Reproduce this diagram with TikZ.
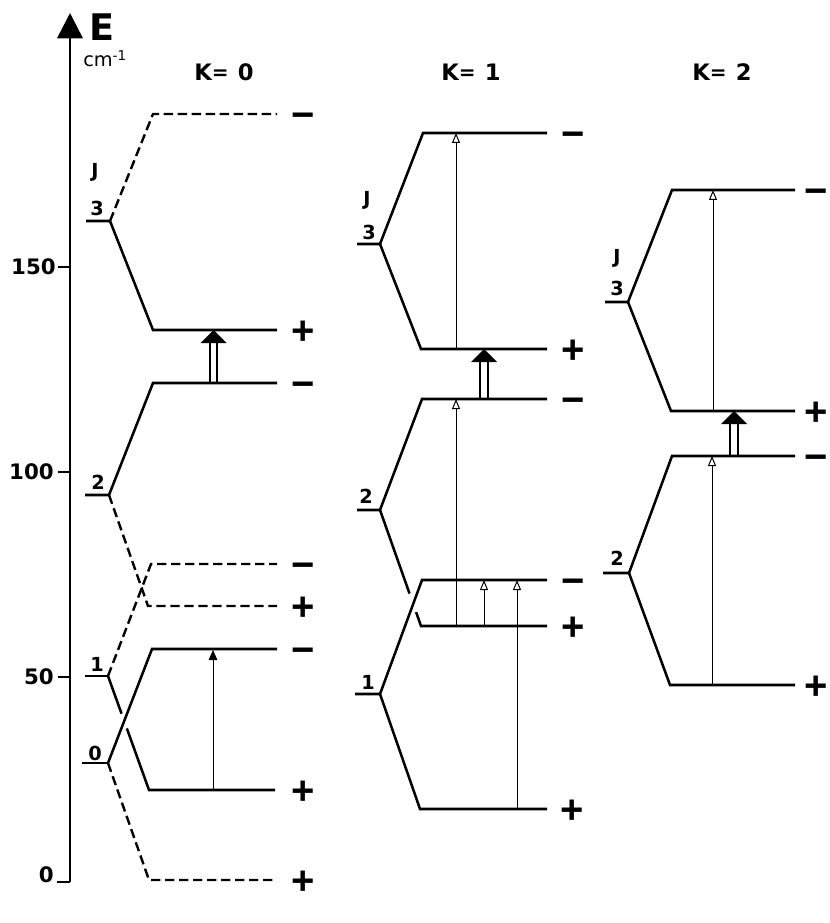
\documentclass[tikz,border=0pt]{standalone}
\usepackage{fontspec}
\setmainfont{DejaVu Sans}
\newfontfamily\sgnfont{Liberation Sans}
\usetikzlibrary{arrows.meta,calc}

\tikzset{
  lvl/.style={line width=1.9pt},
  dlvl/.style={line width=1.8pt, dash pattern=on 7pt off 3.5pt},
  axisline/.style={line width=1.9pt},
  trans/.style={line width=0.75pt, -{Triangle[open,length=7.5pt,width=6pt]}},
  transf/.style={line width=0.75pt, -{Triangle[length=7.5pt,width=6.5pt]}},
  dblline/.style={line width=1.4pt},
  jlab/.style={font=\fontsize{14.5}{16}\selectfont\bfseries, inner sep=0pt},
  num/.style={font=\fontsize{16}{18}\selectfont\bfseries, inner sep=0pt},
  klab/.style={font=\fontsize{17}{19}\selectfont\bfseries, inner sep=0pt},
  sgn/.style={font=\sgnfont\fontsize{30}{32}\selectfont\bfseries, inner sep=0pt,
              text height=21.2pt, text depth=0pt},
}

% hollow double-shafted arrow: x, lower level y, upper level y
\newcommand\dblarrow[3]{%
  \draw[dblline] (#1-3.7,#2) -- (#1-3.7,#3+12) (#1+3.7,#2) -- (#1+3.7,#3+12);
  \fill (#1-13,#3+13) -- (#1+13,#3+13) -- (#1,#3) -- cycle;
}
% heading "K = n" with a compact equals sign
\newcommand\khead[1]{K{\fontsize{15}{15}\selectfont\raisebox{0.5pt}{=}}\hspace{7pt}#1}

\begin{document}
\begin{tikzpicture}[x=0.75pt,y=-0.75pt]
\useasboundingbox (0,0) rectangle (829,923);

% ---------- energy axis ----------
\coordinate (ax0) at (70,882);
\coordinate (axtop) at (70,13);
\draw[axisline, -{Triangle[length=19pt,width=19pt]}] (ax0) -- (axtop);
\coordinate (tk0) at (57,882);
\coordinate (tk50) at (58,677);
\coordinate (tk100) at (58,472);
\coordinate (tk150) at (58,267);
\draw[axisline] (tk0) -- (ax0);
\draw[axisline] (tk50) -- (70,677);
\draw[axisline] (tk100) -- (70,472);
\draw[axisline] (tk150) -- (70,267);
\node[num, anchor=east] (n0) at (54,875) {0};
\node[num, anchor=east] (n50) at (54,677) {50};
\node[num, anchor=east] (n100) at (54,472) {100};
\node[num, anchor=east] (n150) at (56,267) {150};
\node[font=\fontsize{27.5}{30}\selectfont\bfseries, inner sep=0pt] (E) at (102,27) {E};
\node[font=\fontsize{14.5}{16}\selectfont, inner sep=0pt, anchor=base west] (unit) at (83,67) {cm\textsuperscript{-1}};

% ---------- column headings ----------
\node[klab] (K0) at (224,72) {\khead{0}};
\node[klab] (K1) at (471,72) {\khead{1}};
\node[klab] (K2) at (722,72) {\khead{2}};

% ================= K = 0 =================
% J = 0
\coordinate (k0j0) at (108,763);
\draw[lvl] (82,763) -- (k0j0);
\draw[dlvl] (k0j0) -- (149,880) -- (277,880);
% J = 1 (lower branch broken where the J = 0 branch crosses)
\coordinate (k0j1) at (108,676);
\coordinate (k0j1p) at (149,790);
\draw[lvl] (85,676) -- (k0j1);
\draw[lvl] (k0j1) -- ($(k0j1)!0.33!(k0j1p)$);
\draw[lvl] ($(k0j1)!0.46!(k0j1p)$) -- (k0j1p) -- (275,790);
\draw[dlvl] (k0j1) -- (151,564) -- (277,564);
\draw[lvl] (k0j0) -- (152,649) -- (277,649);
% J = 2
\coordinate (k0j2) at (109,495);
\draw[lvl] (85,495) -- (k0j2) -- (153,383) -- (277,383);
\draw[dlvl] (k0j2) -- (148,606) -- (277,606);
% J = 3
\coordinate (k0j3) at (110,221);
\draw[lvl] (86,221) -- (k0j3) -- (153,330) -- (277,330);
\draw[dlvl] (k0j3) -- (153,114) -- (277,114);
% labels
\node[jlab] (k0J) at (95,172) {J};
\node[jlab] (k0l3) at (97,208) {3};
\node[jlab] (k0l2) at (98,482) {2};
\node[jlab] (k0l1) at (97,664) {1};
\node[jlab] (k0l0) at (95,753) {0};
% parities
\node[sgn] (k0s1) at (303,114) {−};
\node[sgn] (k0s2) at (303,330) {+};
\node[sgn] (k0s3) at (303,383) {−};
\node[sgn] (k0s4) at (303,564) {−};
\node[sgn] (k0s5) at (303,606) {+};
\node[sgn] (k0s6) at (303,649) {−};
\node[sgn] (k0s7) at (303,790) {+};
\node[sgn] (k0s8) at (303,880) {+};
% transitions
\coordinate (k0a) at (213,790);
\coordinate (k0b) at (213,650);
\draw[transf] (k0a) -- (k0b);
\dblarrow{213.5}{383}{330}

% ================= K = 1 =================
% J = 1
\coordinate (k1j1) at (380,694);
\draw[lvl] (355,694) -- (k1j1) -- (422,580) -- (547,580);
\draw[lvl] (k1j1) -- (420,809) -- (547,809);
% J = 2 (lower branch broken where the J = 1 branch crosses)
\coordinate (k1j2) at (380,510);
\coordinate (k1j2p) at (421,626);
\draw[lvl] (357,510) -- (k1j2) -- (422,399) -- (547,399);
\draw[lvl] (k1j2) -- ($(k1j2)!0.72!(k1j2p)$);
\draw[lvl] ($(k1j2)!0.88!(k1j2p)$) -- (k1j2p) -- (547,626);
% J = 3
\coordinate (k1j3) at (380,244);
\draw[lvl] (357,244) -- (k1j3) -- (423,133) -- (547,133);
\draw[lvl] (k1j3) -- (421,349) -- (547,349);
% labels
\node[jlab] (k1J) at (367,200) {J};
\node[jlab] (k1l3) at (369,232) {3};
\node[jlab] (k1l2) at (366,496) {2};
\node[jlab] (k1l1) at (368,682) {1};
% parities
\node[sgn] (k1s1) at (573,133) {−};
\node[sgn] (k1s2) at (573,349) {+};
\node[sgn] (k1s3) at (573,399) {−};
\node[sgn] (k1s4) at (573,580) {−};
\node[sgn] (k1s5) at (573,626) {+};
\node[sgn] (k1s6) at (572,809) {+};
% transitions
\draw[trans] (456,349) -- (456,133);
\draw[trans] (456,626) -- (456,399);
\draw[trans] (484,626) -- (484,580);
\draw[trans] (517,809) -- (517,580);
\dblarrow{484}{399}{349}

% ================= K = 2 =================
% J = 2
\coordinate (k2j2) at (629,573);
\draw[lvl] (603,573) -- (k2j2) -- (672,456) -- (795,456);
\draw[lvl] (k2j2) -- (670,685) -- (795,685);
% J = 3
\coordinate (k2j3) at (628,302);
\draw[lvl] (605,302) -- (k2j3) -- (672,190) -- (795,190);
\draw[lvl] (k2j3) -- (671,411) -- (795,411);
% labels
\node[jlab] (k2J) at (617,258) {J};
\node[jlab] (k2l3) at (617,288) {3};
\node[jlab] (k2l2) at (617,558) {2};
% parities
\node[sgn] (k2s1) at (816,190) {−};
\node[sgn] (k2s2) at (816,411) {+};
\node[sgn] (k2s3) at (816,456) {−};
\node[sgn] (k2s4) at (816,685) {+};
% transitions
\draw[trans] (713,411) -- (713,190);
\draw[trans] (712,685) -- (712,456);
\dblarrow{734}{456}{411}
\end{tikzpicture}
\end{document}
